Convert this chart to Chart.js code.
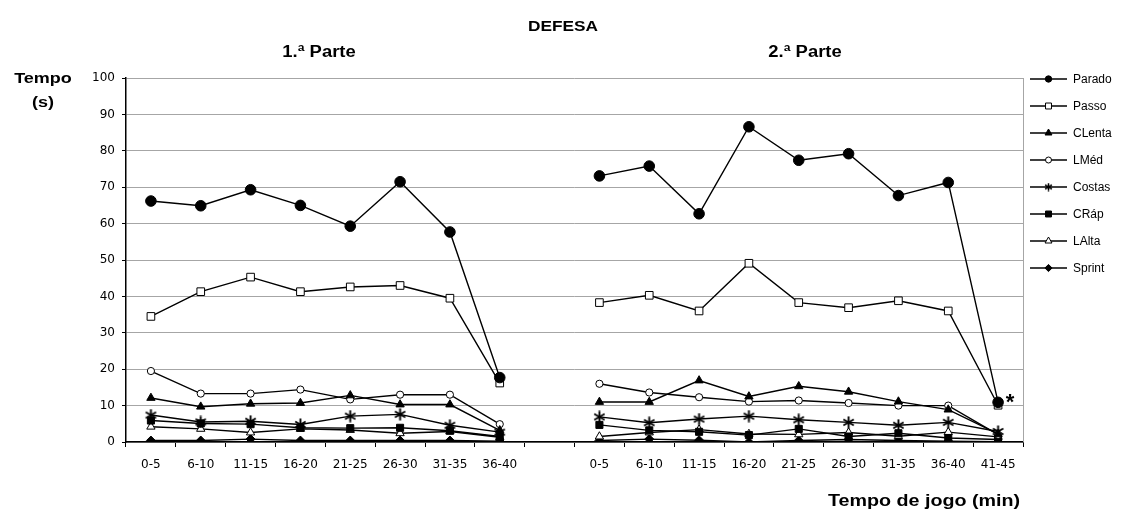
<!DOCTYPE html>
<html><head><meta charset="utf-8">
<script src="https://cdn.jsdelivr.net/npm/chart.js@4.4.1/dist/chart.umd.min.js"></script>
<style>html,body{margin:0;padding:0;background:#fff}#wrap{position:relative;width:1121px;height:514px}canvas{display:block}</style>
</head><body><div id="wrap"><canvas id="c" width="1121" height="514" style="width:1121px;height:514px"></canvas></div>
<script>
// ---- data ----
const categories = ['0-5','6-10','11-15','16-20','21-25','26-30','31-35','36-40','',
                    '0-5','6-10','11-15','16-20','21-25','26-30','31-35','36-40','41-45'];
const seriesNames = ['Parado','Passo','CLenta','LMéd','Costas','CRáp','LAlta','Sprint'];
const parado = [66.2,64.9,69.3,65.0,59.3,71.5,57.7,17.7,null,73.1,75.8,62.7,86.6,77.4,79.2,67.7,71.3,10.9];
const passo  = [34.5,41.3,45.3,41.3,42.6,43.0,39.5,16.2,null,38.3,40.3,36.0,49.1,38.3,36.9,38.8,36.0,10.1];
const clenta = [12.1,9.7,10.5,10.7,12.8,10.3,10.3,3.2,null,11.0,11.0,16.9,12.5,15.3,13.8,11.1,8.9,2.2];
const lmed   = [19.5,13.3,13.3,14.4,11.7,13.0,13.0,4.9,null,16.0,13.6,12.3,11.1,11.4,10.7,10.0,10.0,2.0];
const costas = [7.4,5.5,5.7,4.8,7.1,7.6,4.6,2.7,null,6.9,5.3,6.3,7.1,6.1,5.4,4.6,5.4,2.9];
const crap   = [5.9,5.1,4.9,3.9,3.8,3.9,3.1,1.5,null,4.7,3.2,2.8,1.9,3.6,1.5,2.4,1.1,0.7];
const lalta  = [4.2,3.6,2.6,3.6,3.3,2.4,2.9,1.3,null,1.5,2.6,3.4,2.2,2.1,2.6,1.6,2.7,1.4];
const sprint = [0.4,0.4,0.8,0.4,0.4,0.4,0.4,0.2,null,0.4,0.8,0.5,0.0,0.4,0.7,0.4,0.2,0.1];
const yTicks = [0,10,20,30,40,50,60,70,80,90,100];

// asterisk marker
function makeAsterisk(size, lw) {
  const c = document.createElement('canvas');
  c.width = size; c.height = size;
  const g = c.getContext('2d');
  g.strokeStyle = '#000'; g.lineWidth = lw;
  const m = size / 2, r = size / 2 - 0.5;
  g.beginPath();
  g.moveTo(m, m - r); g.lineTo(m, m + r);
  const dx = r * Math.cos(Math.PI / 6), dy = r * Math.sin(Math.PI / 6);
  g.moveTo(m - dx, m - dy); g.lineTo(m + dx, m + dy);
  g.moveTo(m - dx, m + dy); g.lineTo(m + dx, m - dy);
  g.stroke();
  return c;
}
const starBig = makeAsterisk(13, 1.9);
const starSmall = makeAsterisk(9, 1.5);

const styles = [
  {data: parado, pointStyle: 'circle',   radius: 5.3, fill: '#000', lr: 3.2},
  {data: passo,  pointStyle: 'rect',     radius: 5.4, fill: '#fff', lr: 4.2},
  {data: clenta, pointStyle: 'triangle', radius: 4.8, fill: '#000', lr: 4.0},
  {data: lmed,   pointStyle: 'circle',   radius: 3.6, fill: '#fff', lr: 3.0},
  {data: costas, pointStyle: starBig,    radius: 5,   fill: '#000', lr: 4, legendStyle: starSmall},
  {data: crap,   pointStyle: 'rect',     radius: 5.0, fill: '#000', lr: 4.2},
  {data: lalta,  pointStyle: 'triangle', radius: 4.8, fill: '#fff', lr: 4.0},
  {data: sprint, pointStyle: 'rectRot',  radius: 4.5, fill: '#000', lr: 3.6}
];

const datasets = seriesNames.map((name, i) => ({
  label: name,
  data: styles[i].data,
  borderColor: '#000',
  borderWidth: 1.4,
  backgroundColor: styles[i].fill,
  pointStyle: styles[i].pointStyle,
  pointRadius: styles[i].radius,
  pointBackgroundColor: styles[i].fill,
  pointBorderColor: '#000',
  pointBorderWidth: 1,
  tension: 0,
  spanGaps: false,
  fill: false
}));

function stretchText(ctx, text, cx, cy, font, sx) {
  ctx.save();
  ctx.font = font;
  ctx.fillStyle = '#000';
  ctx.textAlign = 'center';
  ctx.textBaseline = 'middle';
  ctx.translate(cx, cy);
  ctx.scale(sx, 1);
  ctx.fillText(text, 0, 0);
  ctx.restore();
}

const decor = {
  id: 'decor',
  afterDraw(chart) {
    const {ctx, chartArea: a} = chart;
    ctx.save();
    // plot area right border
    ctx.strokeStyle = '#a6a6a6'; ctx.lineWidth = 1;
    ctx.beginPath();
    ctx.moveTo(Math.round(a.right) + 0.5, a.top);
    ctx.lineTo(Math.round(a.right) + 0.5, a.bottom);
    ctx.stroke();
    ctx.restore();

    const bold = 'bold 15px "Liberation Sans", Arial, sans-serif';
    const bold16 = 'bold 16px "Liberation Sans", Arial, sans-serif';
    stretchText(ctx, 'DEFESA', 563, 27, bold, 1.15);
    stretchText(ctx, '1.ª Parte', 319, 53, bold16, 1.15);
    stretchText(ctx, '2.ª Parte', 805, 53, bold16, 1.15);
    stretchText(ctx, 'Tempo', 43, 79, bold, 1.2);
    stretchText(ctx, '(s)', 43, 103, bold, 1.2);
    stretchText(ctx, 'Tempo de jogo (min)', 924, 502, bold16, 1.23);

    // asterisk beside the last point
    ctx.save();
    ctx.font = 'bold 22px "Liberation Sans", Arial, sans-serif';
    ctx.fillStyle = '#000';
    ctx.textAlign = 'center';
    ctx.textBaseline = 'alphabetic';
    ctx.fillText('*', 1010, 409);
    ctx.restore();

    // legend
    const H = Chart.helpers;
    ctx.save();
    seriesNames.forEach((name, i) => {
      const yy = 79 + 27 * i;
      ctx.strokeStyle = '#000'; ctx.lineWidth = 1.4;
      ctx.beginPath(); ctx.moveTo(1030, yy); ctx.lineTo(1067, yy); ctx.stroke();
      ctx.fillStyle = styles[i].fill; ctx.strokeStyle = '#000'; ctx.lineWidth = 1;
      H.drawPoint(ctx, {pointStyle: styles[i].legendStyle || styles[i].pointStyle, radius: styles[i].lr, borderWidth: 1, rotation: 0}, 1048.5, yy);
      ctx.font = '12px "Liberation Sans", Arial, sans-serif';
      ctx.fillStyle = '#000';
      ctx.textAlign = 'left';
      ctx.textBaseline = 'middle';
      ctx.fillText(name, 1073, yy + 0.5);
    });
    ctx.restore();
  }
};

const tickFont = {family: '"DejaVu Sans", sans-serif', size: 12};

new Chart(document.getElementById('c'), {
  type: 'line',
  data: {labels: categories, datasets},
  options: {
    responsive: false,
    animation: false,
    events: [],
    layout: {padding: {top: 78, right: 98, bottom: 0, left: 0}},
    plugins: {legend: {display: false}, tooltip: {enabled: false}, title: {display: false}},
    scales: {
      x: {
        offset: true,
        grid: {offset: true, drawOnChartArea: false, drawTicks: true, tickLength: 5, color: '#000', tickColor: '#000'},
        border: {color: '#000', width: 1.5},
        ticks: {font: tickFont, color: '#000', padding: 11, maxRotation: 0, autoSkip: false},
        afterFit: s => { s.height = 72; }
      },
      y: {
        min: 0, max: 100,
        afterBuildTicks: s => { s.ticks = yTicks.map(v => ({value: v})); },
        ticks: {font: tickFont, color: '#000', padding: 7},
        grid: {color: '#a6a6a6', lineWidth: 1, tickLength: 4, tickColor: '#000'},
        border: {color: '#000', width: 1.5},
        afterFit: s => { s.width = 126; }
      }
    }
  },
  plugins: [decor]
});
</script>
</body></html>
